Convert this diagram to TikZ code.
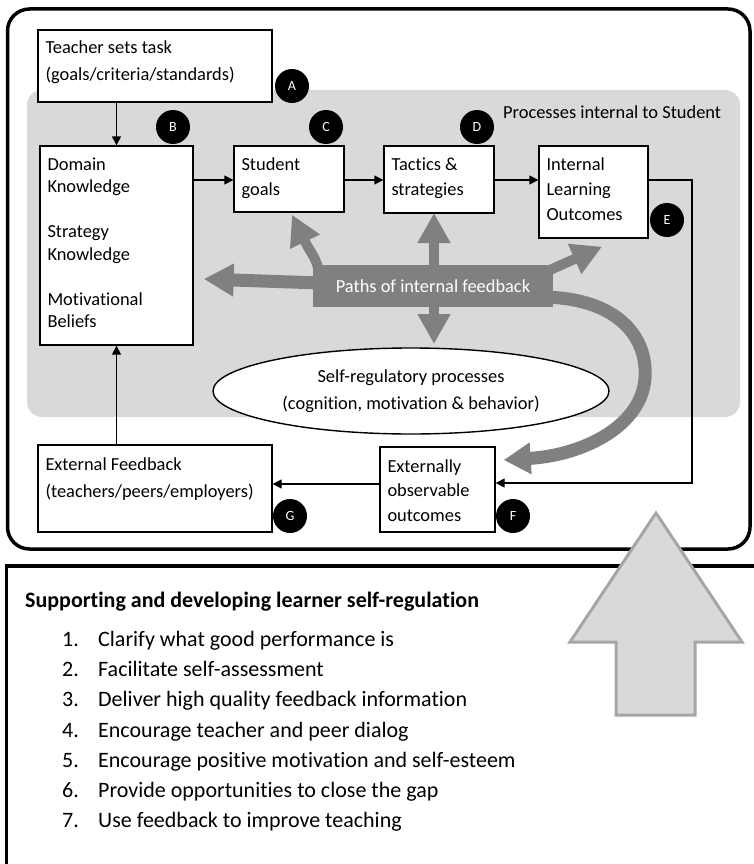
\documentclass[tikz,border=0pt]{standalone}
\usepackage{fontspec}
\setmainfont[Ligatures=NoCommon]{Carlito}
\usetikzlibrary{arrows.meta,calc,shapes.geometric}
\definecolor{zone}{HTML}{D9D9D9}
\definecolor{fbgray}{HTML}{808080}
\definecolor{upline}{HTML}{A6A6A6}

\begin{document}
\begin{tikzpicture}[x=1pt,y=-1pt,
  box/.style={draw=black, line width=1.4pt, fill=white, inner sep=0pt},
  txt/.style={anchor=north west, inner sep=0pt, align=left,
    font=\fontsize{18.4}{#1}\selectfont},
  txt/.default=22.5,
  tag/.style={circle, fill=black, text=white, minimum size=34pt, inner sep=0pt,
    font=\fontsize{14}{14}\selectfont},
  conn/.style={line width=1.4pt, -{Triangle[length=9pt,width=9pt]}},
  fb/.style={draw=fbgray, line width=10pt, -{Triangle[length=30pt,width=31pt]}},
  listtxt/.style={anchor=base west, inner sep=0pt, font=\fontsize{22}{26}\selectfont}
]
\clip (0,0) rectangle (754,864);
\useasboundingbox (0,0) rectangle (754,864);

% frame around the feedback model
\draw[line width=3.5pt, rounded corners=22pt] (7.5,9) rectangle (750,549);

% zone of processes internal to the student
\node[fill=zone, rounded corners=15pt, minimum width=713pt, minimum height=327pt,
  inner sep=0pt] (internal) at (383.5,253.5) {};
\node[anchor=base west, inner sep=0pt, font=\fontsize{18.4}{22}\selectfont]
  (internalT) at (503,118) {Processes internal to Student};

% boxes
\node[box, minimum width=234pt, minimum height=72pt] (teach) at (155,66) {};
\node[box, minimum width=153pt, minimum height=199pt] (dom) at (116.5,245.5) {};
\node[box, minimum width=110pt, minimum height=66pt] (goals) at (289,179) {};
\node[box, minimum width=110pt, minimum height=67pt] (tact) at (439,179.5) {};
\node[box, minimum width=109pt, minimum height=92pt] (ilo) at (593.5,192) {};
\node[box, minimum width=234pt, minimum height=87pt] (fbk) at (155,488.5) {};
\node[box, minimum width=115pt, minimum height=85pt] (obs) at (437.5,489.5) {};
\node[ellipse, draw=black, line width=1.4pt, fill=white, minimum width=396pt,
  minimum height=86pt, inner sep=0pt, align=center,
  font=\fontsize{18.4}{27}\selectfont] (selfreg) at (411,391)
  {Self-regulatory processes\\(cognition, motivation \& behavior)};

% paths of internal feedback
\draw[fb, line width=13pt] (320,283) -- ($(dom.east |- 0,279)+(10,0)$);
\draw[fb] (318,268) .. controls (316,258) and (309,250) .. ($(goals.south)+(3,2)$);
\draw[fb] (434,270) -- (434,213);
\draw[fb] (434,300) -- (434,344);
\draw[fb] (541,274) -- ($(ilo.south)+(8.5,8)$);
\draw[fb, line width=13pt, -{Triangle[length=27pt,width=30pt]}]
  (540,297) .. controls (615,297) and (648,335) .. (645,378)
  .. controls (642,425) and (585,455) .. ($(obs.east)+(8,-29.5)$);
\node[fill=fbgray, text=white, minimum width=240pt, minimum height=42pt, inner sep=0pt,
  font=\fontsize{18.4}{22}\selectfont] (paths) at (433,286) {Paths of internal feedback};

% box texts
\node[txt=27] (teachT) at ($(teach.north west)+(8,11)$)
  {Teacher sets task\\(goals/criteria/standards)};
\node[txt] (domT) at ($(dom.north west)+(8,12)$)
  {Domain\\Knowledge\\[22.5pt]Strategy\\Knowledge\\[22.5pt]Motivational\\Beliefs};
\node[txt=25] (goalsT) at ($(goals.north west)+(8,12)$) {Student\\goals};
\node[txt=25] (tactT) at ($(tact.north west)+(8,12)$) {Tactics \&\\strategies};
\node[txt=25] (iloT) at ($(ilo.north west)+(8,12)$) {Internal\\Learning\\Outcomes};
\node[txt=27] (fbkT) at ($(fbk.north west)+(8,13)$)
  {External Feedback\\(teachers/peers/employers)};
\node[txt=24.5] (obsT) at ($(obs.north west)+(8,13)$) {Externally\\observable\\outcomes};

% connectors
\coordinate (loopA) at (692,180);
\coordinate (loopB) at (692,483);
\draw[conn] (teach.south -| dom.north) -- (dom.north);
\draw[conn] (dom.east |- 0,180) -- (goals.west |- 0,180);
\draw[conn] (goals.east |- 0,180) -- (tact.west |- 0,180);
\draw[conn] (tact.east |- 0,180) -- (ilo.west |- 0,180);
\draw[conn] (ilo.east |- loopA) -- (loopA) -- (loopB) -- (obs.east |- loopB);
\draw[conn] (obs.west |- 0,484) -- (fbk.east |- 0,484);
\draw[conn] (fbk.north -| dom.south) -- (dom.south);

% step markers
\node[tag] (mA) at (292,86) {A};
\node[tag] (mB) at (173,127) {B};
\node[tag] (mC) at (326,127) {C};
\node[tag] (mD) at (477,127) {D};
\node[tag] (mE) at (667,220) {E};
\node[tag] (mF) at (513,516) {F};
\node[tag] (mG) at (290,516) {G};

% lower panel
\draw[line width=3.5pt] (6.5,900) -- (6.5,566) -- (770,566);
\node[anchor=base west, inner sep=0pt, font=\fontsize{22}{26}\selectfont\bfseries]
  (head) at (25,607) {Supporting and developing learner self-regulation};
\foreach \n/\t [count=\i from 0] in {
  1/Clarify what good performance is,
  2/Facilitate self-assessment,
  3/Deliver high quality feedback information,
  4/Encourage teacher and peer dialog,
  5/Encourage positive motivation and self-esteem,
  6/Provide opportunities to close the gap,
  7/Use feedback to improve teaching}{
  \node[listtxt] (num\n) at (62,646.5+30.2*\i) {\n.};
  \node[listtxt] (item\n) at (98,646.5+30.2*\i) {\t};
}

% upward arrow
\draw[fill=zone, draw=upline, line width=3pt]
  (616,715) -- (616,642) -- (570,642) -- (656,513) -- (742,642) -- (695,642)
  -- (695,715) -- cycle;
\end{tikzpicture}
\end{document}
